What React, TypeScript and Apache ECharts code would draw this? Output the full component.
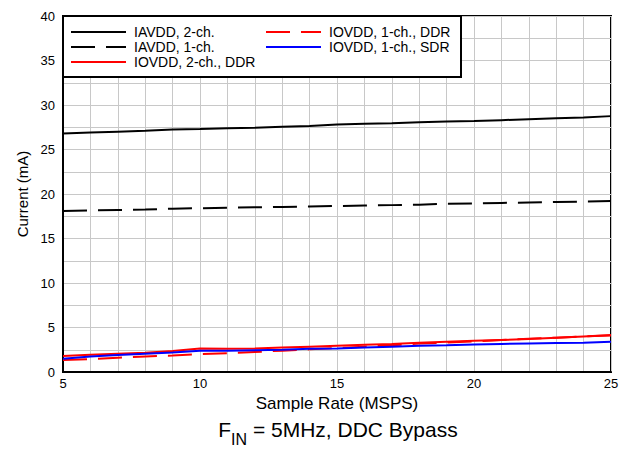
import React, { useEffect, useRef } from "react";
import * as echarts from "echarts";

const sampleRates = [5, 6, 7, 8, 9, 10, 11, 12, 13, 14, 15, 16, 17, 18, 19, 20, 21, 22, 23, 24, 25];
const iavdd2ch = [26.8, 26.9, 27.0, 27.1, 27.25, 27.3, 27.4, 27.45, 27.55, 27.65, 27.8, 27.9, 27.95, 28.05, 28.15, 28.2, 28.3, 28.4, 28.5, 28.6, 28.75];
const iavdd1ch = [18.1, 18.15, 18.2, 18.25, 18.35, 18.4, 18.45, 18.5, 18.55, 18.6, 18.65, 18.7, 18.75, 18.8, 18.9, 18.95, 19.0, 19.05, 19.1, 19.15, 19.2];
const iovdd2chDdr = [1.8, 1.95, 2.05, 2.15, 2.35, 2.65, 2.6, 2.65, 2.75, 2.85, 2.95, 3.05, 3.15, 3.3, 3.4, 3.5, 3.6, 3.7, 3.85, 4.0, 4.15];
const iovdd1chDdr = [1.35, 1.45, 1.6, 1.75, 1.85, 2.0, 2.1, 2.25, 2.4, 2.55, 2.7, 2.85, 3.0, 3.2, 3.3, 3.45, 3.6, 3.75, 3.85, 4.0, 4.1];
const iovdd1chSdr = [1.5, 1.75, 1.9, 2.05, 2.2, 2.4, 2.4, 2.45, 2.5, 2.6, 2.65, 2.75, 2.85, 2.95, 3.0, 3.1, 3.15, 3.2, 3.25, 3.3, 3.4];

const seriesNames = ["IAVDD, 2-ch.", "IAVDD, 1-ch.", "IOVDD, 2-ch., DDR", "IOVDD, 1-ch., DDR", "IOVDD, 1-ch., SDR"];
const xTickLabels = ["5", "10", "15", "20", "25"];
const yTickLabels = ["0", "5", "10", "15", "20", "25", "30", "35", "40"];

const FONT = "Liberation Sans, Arial, sans-serif";

export default function App() {
  const ref = useRef<HTMLDivElement>(null);
  useEffect(() => {
    if (!ref.current) return;
    const chart = echarts.init(ref.current, undefined, { renderer: "svg" });
    const pair = (arr: number[]) => sampleRates.map((x, i) => [x, arr[i]]);
    const mk = (name: string, arr: number[], color: string, dashed: boolean) => ({
      name,
      type: "line",
      data: pair(arr),
      symbol: "none",
      showSymbol: false,
      lineStyle: { color, width: 2, type: dashed ? [24, 11] : "solid" },
      itemStyle: { color },
      z: 3,
    });
    const legendCommon = {
      orient: "vertical",
      top: 20,
      padding: 5,
      itemWidth: 55,
      itemHeight: 14,
      itemGap: 1,
      itemStyle: { color: "rgba(0,0,0,0)", borderWidth: 0, opacity: 0 },
      textStyle: { fontFamily: FONT, fontSize: 14, color: "#000", padding: [0, 0, 0, 3] },
      z: 20,
      backgroundColor: "transparent",
    };
    chart.setOption({
      animation: false,
      backgroundColor: "#fff",
      grid: {
        left: 63,
        right: 16,
        top: 16,
        bottom: 77,
        show: true,
        borderColor: "#000",
        borderWidth: 2,
        backgroundColor: "transparent",
      },
      legend: [
        { ...legendCommon, left: 65, data: seriesNames.slice(0, 3) },
        { ...legendCommon, left: 260, data: seriesNames.slice(3) },
      ],
      xAxis: {
        type: "value",
        min: 5,
        max: 25,
        interval: 1,
        name: "Sample Rate (MSPS)",
        nameLocation: "middle",
        nameGap: 19,
        nameTextStyle: { fontFamily: FONT, fontSize: 17, color: "#000" },
        axisLine: { show: true, lineStyle: { color: "#000", width: 2 } },
        axisTick: { show: false },
        axisLabel: {
          fontFamily: FONT,
          fontSize: 13,
          color: "#000",
          margin: 5,
          formatter: (v: number) => (xTickLabels.includes(String(v)) ? String(v) : ""),
        },
        splitLine: { show: true, lineStyle: { color: "#c8c8c8", width: 1 } },
      },
      yAxis: {
        type: "value",
        min: 0,
        max: 40,
        interval: 2.5,
        name: "Current (mA)",
        nameLocation: "middle",
        nameGap: 33,
        nameTextStyle: { fontFamily: FONT, fontSize: 15, color: "#000" },
        axisLine: { show: true, lineStyle: { color: "#000", width: 2 } },
        axisTick: { show: false },
        axisLabel: {
          fontFamily: FONT,
          fontSize: 13,
          color: "#000",
          margin: 8,
          formatter: (v: number) => (yTickLabels.includes(String(v)) ? String(v) : ""),
        },
        splitLine: { show: true, lineStyle: { color: "#c8c8c8", width: 1 } },
      },
      graphic: [
        {
          type: "rect",
          shape: { x: 63, y: 16, width: 398, height: 61 },
          style: { fill: "#fff", stroke: "#000", lineWidth: 2 },
          z: 10,
        },
        {
          type: "text",
          x: 338,
          y: 411,
          style: {
            text: "{a|F}{b|IN}{a| = 5MHz, DDC Bypass}",
            align: "center",
            verticalAlign: "top",
            rich: {
              a: { fontFamily: FONT, fontSize: 21, color: "#000", lineHeight: 36, verticalAlign: "middle" },
              b: { fontFamily: FONT, fontSize: 16, color: "#000", lineHeight: 16, verticalAlign: "bottom" },
            },
          },
          z: 10,
        },
      ],
      series: [
        mk(seriesNames[0], iavdd2ch, "#000", false),
        mk(seriesNames[1], iavdd1ch, "#000", true),
        mk(seriesNames[2], iovdd2chDdr, "#ff0000", false),
        mk(seriesNames[3], iovdd1chDdr, "#ff0000", true),
        mk(seriesNames[4], iovdd1chSdr, "#0000ff", false),
      ],
    });
    return () => chart.dispose();
  }, []);
  return <div ref={ref} style={{ width: 627, height: 449, position: "absolute", left: 0, top: 0 }} />;
}
